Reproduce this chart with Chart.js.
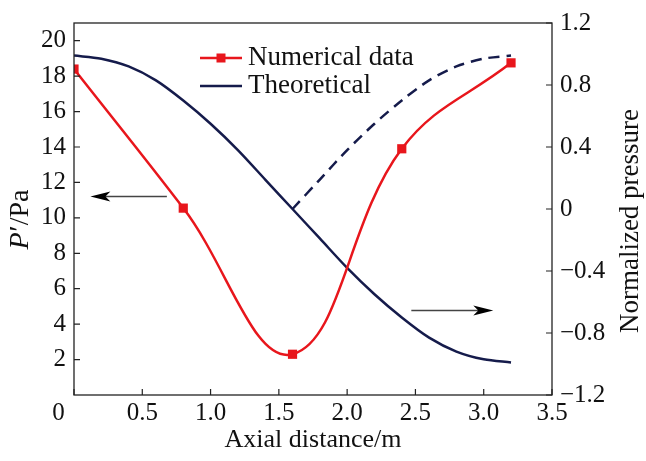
<!DOCTYPE html>
<html lang="en">
<head>
<meta charset="UTF-8">
<title>Axial pressure distribution</title>
<script src="https://cdn.jsdelivr.net/npm/chart.js"></script>
<style>
  html, body { margin: 0; padding: 0; background: #fff; }
  #wrap { width: 646px; height: 461px; position: relative; }
</style>
</head>
<body>
<div id="wrap"><canvas id="chart" width="646" height="461"></canvas></div>
<script>
// values
const numX = [0, 0.8, 1.6, 2.4, 3.2];
const numP = [18.4, 10.55, 2.3, 13.9, 18.75];          // P'/Pa, left axis

const theoX = [0, 0.2, 0.4, 0.6, 0.8, 1.0, 1.2, 1.4, 1.6, 1.8, 2.0, 2.2, 2.4, 2.6, 2.8, 3.0, 3.2];
const theoN = [0.99, 0.97, 0.92, 0.83, 0.7, 0.55, 0.38, 0.19, 0.0, -0.19, -0.38, -0.55, -0.7, -0.83, -0.92, -0.97, -0.99];

// dashed branch (mirror of theoretical beyond 1.6 m)
const dashX = [1.6, 1.8, 2.0, 2.2, 2.4, 2.6, 2.8, 3.0, 3.2];
const dashN = [0.0, 0.19, 0.38, 0.55, 0.7, 0.83, 0.92, 0.97, 0.99];

const xTicks = [0, 0.5, 1.0, 1.5, 2.0, 2.5, 3.0, 3.5];
const leftTicks = [2, 4, 6, 8, 10, 12, 14, 16, 18, 20];
const rightTicks = [-1.2, -0.8, -0.4, 0, 0.4, 0.8, 1.2];

const seriesNames = ['Numerical data', 'Theoretical'];
const RED = '#e8161c';
const NAVY = '#151b4b';
const FONT = "'Liberation Serif', 'Times New Roman', serif";

// arrows pointing to the axis each curve belongs to (data units)
const arrows = [
  { x0: 0.68, x1: 0.12, y: 11.2, axis: 'y' },
  { x0: 2.47, x1: 3.07, y: -0.655, axis: 'y1' }
];

const pts = (xs, ys) => xs.map((x, i) => ({ x: x, y: ys[i] }));

// box around plot + inward tick marks
const framePlugin = {
  id: 'frame',
  afterDraw(chart) {
    const { ctx, chartArea: a, scales } = chart;
    ctx.save();
    ctx.strokeStyle = '#222';
    ctx.lineWidth = 1.3;
    ctx.strokeRect(a.left, a.top, a.right - a.left, a.bottom - a.top);
    ctx.lineWidth = 1.2;
    ctx.beginPath();
    const len = 6;
    scales.x.ticks.forEach(t => {
      const px = scales.x.getPixelForValue(t.value);
      ctx.moveTo(px, a.bottom); ctx.lineTo(px, a.bottom - len);
    });
    scales.y.ticks.forEach(t => {
      const py = scales.y.getPixelForValue(t.value);
      ctx.moveTo(a.left, py); ctx.lineTo(a.left + len, py);
    });
    scales.y1.ticks.forEach(t => {
      const py = scales.y1.getPixelForValue(t.value);
      ctx.moveTo(a.right, py); ctx.lineTo(a.right - len, py);
    });
    ctx.stroke();
    ctx.restore();
  }
};

// axis titles, legend, arrows
const notesPlugin = {
  id: 'notes',
  afterDraw(chart) {
    const { ctx, chartArea: a, scales } = chart;
    ctx.save();
    ctx.fillStyle = '#111';
    ctx.textBaseline = 'middle';

    // x title
    ctx.font = '26px ' + FONT;
    ctx.textAlign = 'center';
    ctx.fillText('Axial distance/m', (a.left + a.right) / 2, 440);

    // left title  P'/Pa  (P italic)
    ctx.save();
    ctx.translate(21, (a.top + a.bottom) / 2 + 11);
    ctx.rotate(-Math.PI / 2);
    ctx.font = 'italic 28px ' + FONT;
    const w1 = ctx.measureText('P').width;
    ctx.font = '28px ' + FONT;
    const w2 = ctx.measureText('\u2032/Pa').width;
    let sx = -(w1 + w2) / 2;
    ctx.textAlign = 'left';
    ctx.font = 'italic 28px ' + FONT;
    ctx.fillText('P', sx, 0);
    ctx.font = '28px ' + FONT;
    ctx.fillText('\u2032/Pa', sx + w1 + 1, 0);
    ctx.restore();

    // right title
    ctx.save();
    ctx.translate(631, (a.top + a.bottom) / 2 + 12);
    ctx.rotate(-Math.PI / 2);
    ctx.font = '27px ' + FONT;
    ctx.textAlign = 'center';
    ctx.fillText('Normalized pressure', 0, 0);
    ctx.restore();

    // legend
    const lx = a.left + 126, ll = 42;
    const rows = [a.top + 35, a.top + 63];
    const ds = chart.data.datasets;
    rows.forEach((ry, i) => {
      ctx.strokeStyle = ds[i].borderColor;
      ctx.lineWidth = 2.5;
      ctx.beginPath();
      ctx.moveTo(lx, ry); ctx.lineTo(lx + ll, ry);
      ctx.stroke();
      if (i === 0) {
        ctx.fillStyle = ds[i].backgroundColor;
        ctx.fillRect(lx + ll / 2 - 4.5, ry - 4.5, 9, 9);
      }
      ctx.fillStyle = '#111';
      ctx.font = '27px ' + FONT;
      ctx.textAlign = 'left';
      ctx.fillText(seriesNames[i], lx + ll + 6, ry);
    });

    // arrows
    arrows.forEach(ar => {
      const x0 = scales.x.getPixelForValue(ar.x0);
      const x1 = scales.x.getPixelForValue(ar.x1);
      const y = scales[ar.axis].getPixelForValue(ar.y);
      const dir = Math.sign(x1 - x0);
      ctx.strokeStyle = '#444';
      ctx.lineWidth = 1.5;
      ctx.beginPath();
      ctx.moveTo(x0, y); ctx.lineTo(x1 - dir * 10, y);
      ctx.stroke();
      ctx.fillStyle = '#000';
      ctx.beginPath();
      ctx.moveTo(x1, y);
      ctx.lineTo(x1 - dir * 20, y - 5);
      ctx.lineTo(x1 - dir * 15, y);
      ctx.lineTo(x1 - dir * 20, y + 5);
      ctx.closePath();
      ctx.fill();
    });
    ctx.restore();
  }
};

const tickFont = { family: FONT, size: 25 };

new Chart(document.getElementById('chart'), {
  type: 'line',
  data: {
    datasets: [
      {
        label: seriesNames[0],
        data: pts(numX, numP),
        yAxisID: 'y',
        borderColor: RED,
        backgroundColor: RED,
        borderWidth: 2.5,
        tension: 0.4,
        pointStyle: 'rect',
        pointRadius: 6.5,
        pointBorderWidth: 0
      },
      {
        label: seriesNames[1],
        data: pts(theoX, theoN),
        yAxisID: 'y1',
        borderColor: NAVY,
        backgroundColor: NAVY,
        borderWidth: 2.5,
        tension: 0.3,
        pointRadius: 0
      },
      {
        label: '',
        data: pts(dashX, dashN),
        yAxisID: 'y1',
        borderColor: NAVY,
        borderWidth: 2.5,
        borderDash: [11, 7],
        tension: 0.3,
        pointRadius: 0
      }
    ]
  },
  options: {
    responsive: false,
    animation: false,
    layout: { padding: { top: 17, left: 0, right: 0, bottom: 0 } },
    plugins: { legend: { display: false }, tooltip: { enabled: false } },
    scales: {
      x: {
        type: 'linear',
        min: 0, max: 3.5,
        afterBuildTicks: s => { s.ticks = xTicks.map(v => ({ value: v })); },
        afterFit: s => { s.height = 66; },
        grid: { display: false, drawTicks: false },
        border: { display: false },
        ticks: {
          autoSkip: false, maxRotation: 0, padding: 3,
          font: tickFont, color: '#111',
          callback: v => v === 0 ? '0     ' : v.toFixed(1)
        }
      },
      y: {
        type: 'linear', position: 'left',
        min: 0, max: 21,
        afterBuildTicks: s => { s.ticks = leftTicks.map(v => ({ value: v })); },
        afterFit: s => { s.width = 74; },
        grid: { display: false, drawTicks: false },
        border: { display: false },
        ticks: { padding: 8, font: tickFont, color: '#111', callback: v => String(v) }
      },
      y1: {
        type: 'linear', position: 'right',
        min: -1.2, max: 1.2,
        afterBuildTicks: s => { s.ticks = rightTicks.map(v => ({ value: v })); },
        afterFit: s => { s.width = 94; },
        grid: { display: false, drawTicks: false },
        border: { display: false },
        ticks: {
          padding: 8, font: tickFont, color: '#111',
          callback: v => v === 0 ? '0' : (v < 0 ? '\u2212' : '') + Math.abs(v).toFixed(1)
        }
      }
    }
  },
  plugins: [framePlugin, notesPlugin]
});
</script>
</body>
</html>
